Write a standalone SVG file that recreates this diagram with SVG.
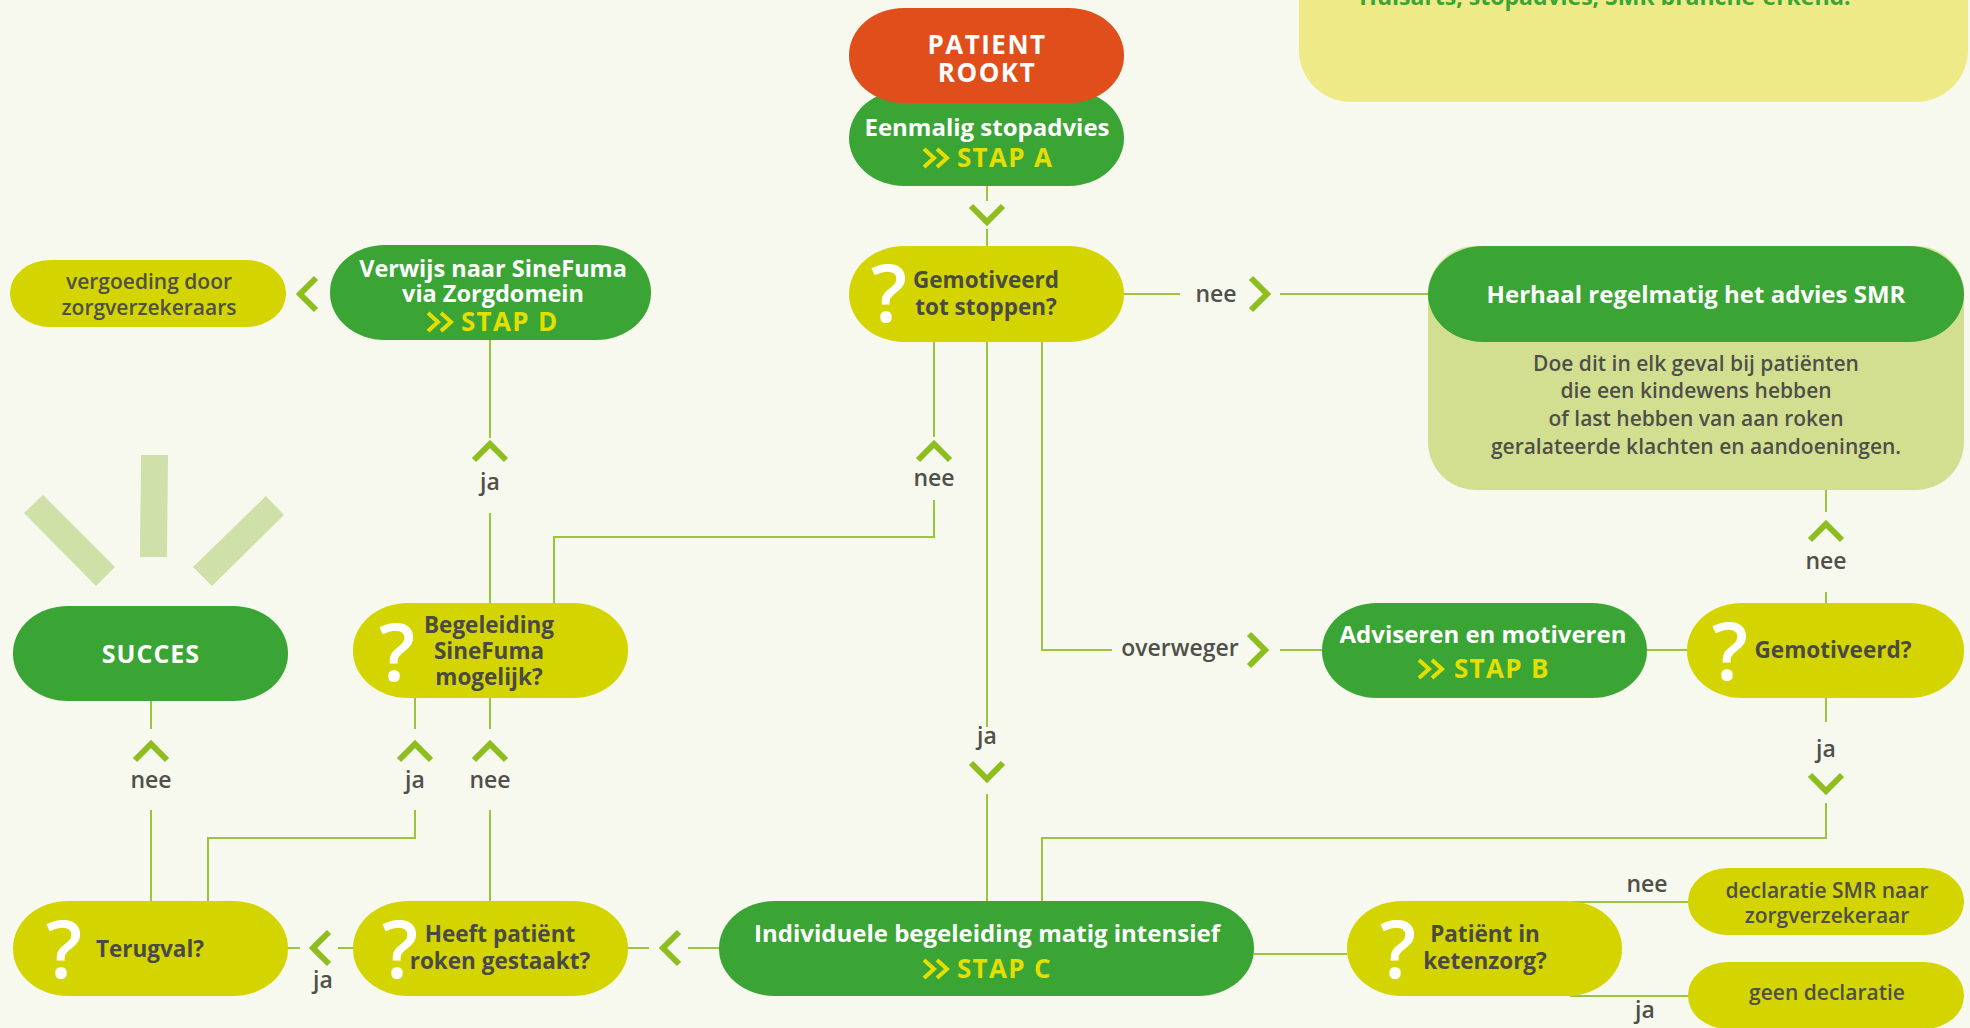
<svg xmlns="http://www.w3.org/2000/svg" xmlns:xlink="http://www.w3.org/1999/xlink" width="1970" height="1028" viewBox="0 0 1970 1028">
<defs>
<style>
.t{font-family:"Open Sans","Noto Sans",Lato,sans-serif;font-weight:700;text-anchor:middle}
.w{fill:#ffffff;font-size:24px}
.d{fill:#4a4a45;font-size:22.5px}
.m{fill:#4f4f4a;font-size:21px;font-weight:600}
.l{fill:#50504b;font-size:23px;font-weight:600}
.s{fill:#e4df00;font-size:26px;letter-spacing:1.3px;text-anchor:start}
.q{fill:#ffffff;font-size:80px;font-weight:600}
.green{fill:#3aa535}
.yel{fill:#d4d500}
.ln{stroke:#9cc53f;stroke-width:2;fill:none}
.ch{stroke:#8dbd1e;stroke-width:6;fill:none}
.dbl{stroke:#e4df00;stroke-width:4;fill:none}
</style>
<path id="chD" d="M-16,-8 L0,8 L16,-8"/>
<path id="chU" d="M-16,8 L0,-8 L16,8"/>
<path id="chR" d="M-8,-16 L8,0 L-8,16"/>
<path id="chL" d="M8,-16 L-8,0 L8,16"/>
<path id="dblc" d="M1,-18 L11,-9 L1,0 M14,-18 L24,-9 L14,0"/>
</defs>
<rect x="0" y="0" width="1970" height="1028" fill="#f7f9ee"/>

<g id="info-box">
<rect x="1299" y="-60" width="669" height="162" rx="52" ry="52" fill="#eeea88"/>
<text x="1605" y="5" class="t" style="fill:#3aa535;font-size:23px">Huisarts, stopadvies, SMR branche-erkend.</text>
</g>

<g id="rays" fill="#cfe0a8">
<polygon points="24,513 43,495 115,567 96,586"/>
<polygon points="141,455 168,455 167,557 140,557"/>
<polygon points="193,567 266,496 284,515 212,586"/>
</g>

<g id="connectors">
<path class="ln" d="M987,186 V201 M987,229 V246"/>
<path class="ln" d="M1124,294 H1180 M1280,294 H1428"/>
<path class="ln" d="M934,342 V437 M934,500 V537 H554 V603"/>
<path class="ln" d="M490,340 V438 M490,513 V603"/>
<path class="ln" d="M987,342 V727 M987,794 V901"/>
<path class="ln" d="M1042,342 V650 H1112 M1280,650 H1322"/>
<path class="ln" d="M1647,650 H1687"/>
<path class="ln" d="M1826,490 V512 M1826,592 V603"/>
<path class="ln" d="M1826,698 V722 M1826,803 V838 H1042 V901"/>
<path class="ln" d="M151,701 V729 M151,810 V901"/>
<path class="ln" d="M415,698 V729 M415,810 V838 H208 V901"/>
<path class="ln" d="M490,698 V729 M490,810 V901"/>
<path class="ln" d="M288,948 H300 M338,948 H353"/>
<path class="ln" d="M628,948 H649 M688,948 H719"/>
<path class="ln" d="M1254,954 H1347"/>
<path class="ln" d="M1570,902 H1690 M1570,996 H1690"/>
<g class="ch">
<use xlink:href="#chD" x="987" y="214"/>
<use xlink:href="#chR" x="1259" y="294"/>
<use xlink:href="#chU" x="490" y="452"/>
<use xlink:href="#chU" x="934" y="452"/>
<use xlink:href="#chL" x="308" y="294"/>
<use xlink:href="#chD" x="987" y="771"/>
<use xlink:href="#chR" x="1257" y="650"/>
<use xlink:href="#chU" x="1826" y="532"/>
<use xlink:href="#chD" x="1826" y="783"/>
<use xlink:href="#chU" x="151" y="752"/>
<use xlink:href="#chU" x="415" y="752"/>
<use xlink:href="#chU" x="490" y="752"/>
<use xlink:href="#chL" x="321" y="948"/>
<use xlink:href="#chL" x="671" y="948"/>
</g>
<g class="t l">
<text x="1216" y="302">nee</text>
<text x="934" y="486">nee</text>
<text x="490" y="490">ja</text>
<text x="1180" y="656">overweger</text>
<text x="987" y="744">ja</text>
<text x="1826" y="569">nee</text>
<text x="1826" y="757">ja</text>
<text x="151" y="788">nee</text>
<text x="415" y="788">ja</text>
<text x="490" y="788">nee</text>
<text x="323" y="988">ja</text>
<text x="1647" y="892">nee</text>
<text x="1645" y="1018">ja</text>
</g>
</g>

<g id="node-eenmalig">
<rect x="849" y="90" width="275" height="96" rx="55" ry="48" class="green"/>
<text x="987" y="136" class="t w">Eenmalig stopadvies</text>
<use xlink:href="#dblc" x="923" y="167" class="dbl"/>
<text x="957" y="167" class="t s">STAP A</text>
</g>

<g id="node-patient-rookt">
<rect x="849" y="8" width="275" height="95" rx="55" ry="47" fill="#e04e1b"/>
<text x="987" y="54" class="t w" style="font-size:26px;letter-spacing:1.5px">PATIENT</text>
<text x="987" y="82" class="t w" style="font-size:26px;letter-spacing:1.5px">ROOKT</text>
</g>

<g id="node-gemotiveerd-stoppen">
<rect x="849" y="246" width="275" height="96" rx="55" ry="48" class="yel"/>
<text x="889" y="322" class="t q">?</text>
<text x="986" y="288" class="t d">Gemotiveerd</text>
<text x="986" y="315" class="t d">tot stoppen?</text>
</g>

<g id="node-verwijs">
<rect x="330" y="245" width="321" height="95" rx="55" ry="47" class="green"/>
<text x="493" y="277" class="t w" style="font-size:23.5px">Verwijs naar SineFuma</text>
<text x="493" y="302" class="t w" style="font-size:23.5px">via Zorgdomein</text>
<use xlink:href="#dblc" x="427" y="331" class="dbl"/>
<text x="461" y="331" class="t s">STAP D</text>
</g>

<g id="node-vergoeding">
<rect x="10" y="260" width="276" height="67" rx="40" ry="33" class="yel"/>
<text x="149" y="289" class="t m">vergoeding door</text>
<text x="149" y="315" class="t m">zorgverzekeraars</text>
</g>

<g id="node-herhaal">
<rect x="1428" y="246" width="536" height="244" rx="48" ry="48" fill="#d3df90"/>
<rect x="1428" y="246" width="536" height="96" rx="55" ry="48" class="green"/>
<text x="1696" y="303" class="t w">Herhaal regelmatig het advies SMR</text>
<text x="1696" y="371" class="t m">Doe dit in elk geval bij patiënten</text>
<text x="1696" y="398" class="t m">die een kindewens hebben</text>
<text x="1696" y="426" class="t m">of last hebben van aan roken</text>
<text x="1696" y="454" class="t m">geralateerde klachten en aandoeningen.</text>
</g>

<g id="node-succes">
<rect x="13" y="606" width="275" height="95" rx="55" ry="47" class="green"/>
<text x="151" y="663" class="t w" style="font-size:25px;letter-spacing:1px">SUCCES</text>
</g>

<g id="node-begeleiding">
<rect x="353" y="603" width="275" height="95" rx="55" ry="47" class="yel"/>
<text x="397" y="681" class="t q">?</text>
<text x="489" y="633" class="t d">Begeleiding</text>
<text x="489" y="659" class="t d">SineFuma</text>
<text x="489" y="685" class="t d">mogelijk?</text>
</g>

<g id="node-adviseren">
<rect x="1322" y="603" width="325" height="95" rx="55" ry="47" class="green"/>
<text x="1483" y="643" class="t w">Adviseren en motiveren</text>
<use xlink:href="#dblc" x="1418" y="678" class="dbl"/>
<text x="1454" y="678" class="t s">STAP B</text>
</g>

<g id="node-gemotiveerd">
<rect x="1687" y="603" width="277" height="95" rx="55" ry="47" class="yel"/>
<text x="1730" y="680" class="t q">?</text>
<text x="1833" y="658" class="t d">Gemotiveerd?</text>
</g>

<g id="node-terugval">
<rect x="13" y="901" width="275" height="95" rx="55" ry="47" class="yel"/>
<text x="64" y="978" class="t q">?</text>
<text x="150" y="957" class="t d">Terugval?</text>
</g>

<g id="node-heeft">
<rect x="353" y="901" width="275" height="95" rx="55" ry="47" class="yel"/>
<text x="400" y="978" class="t q">?</text>
<text x="500" y="942" class="t d">Heeft patiënt</text>
<text x="500" y="969" class="t d">roken gestaakt?</text>
</g>

<g id="node-individuele">
<rect x="719" y="901" width="535" height="95" rx="56" ry="47" class="green"/>
<text x="987" y="942" class="t w">Individuele begeleiding matig intensief</text>
<use xlink:href="#dblc" x="923" y="978" class="dbl"/>
<text x="957" y="978" class="t s">STAP C</text>
</g>

<g id="node-ketenzorg">
<rect x="1347" y="901" width="275" height="95" rx="55" ry="47" class="yel"/>
<text x="1398" y="978" class="t q">?</text>
<text x="1485" y="942" class="t d">Patiënt in</text>
<text x="1485" y="969" class="t d">ketenzorg?</text>
</g>

<g id="node-declaratie">
<rect x="1688" y="868" width="276" height="67" rx="40" ry="33" class="yel"/>
<text x="1827" y="898" class="t m">declaratie SMR naar</text>
<text x="1827" y="923" class="t m">zorgverzekeraar</text>
</g>

<g id="node-geen">
<rect x="1688" y="962" width="276" height="67" rx="40" ry="33" class="yel"/>
<text x="1827" y="1000" class="t m">geen declaratie</text>
</g>
</svg>
